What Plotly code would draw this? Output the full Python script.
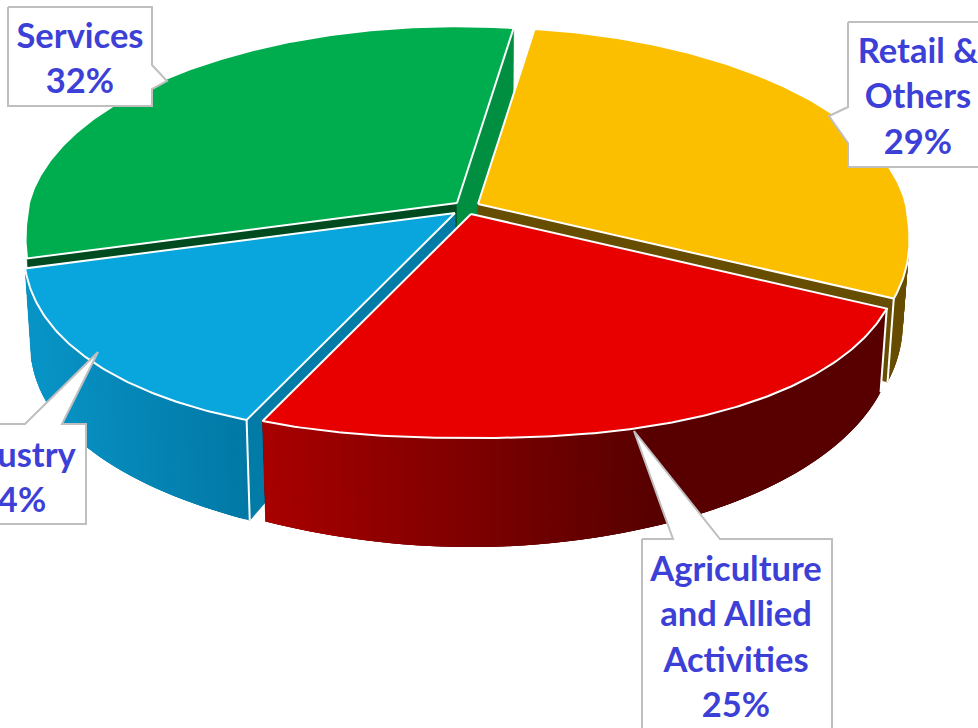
import math
import numpy as np
import plotly.graph_objects as go

# Share of each sector, clockwise from the top of the pie
categories = ["Retail & Others", "Agriculture and Allied Activities", "Industry", "Services"]
values = [29, 25, 14, 32]
label_lines = [["Retail &", "Others"], ["Agriculture", "and Allied", "Activities"], ["Industry"], ["Services"]]

top_colors = ["#FCBF00", "#E80000", "#09A6DE", "#00AD4E"]
start_cut_colors = ["#674D00", "#5A0000", "#027BA6", "#004A20"]
end_cut_colors = ["#674D00", "#5A0000", "#027BA6", "#008F41"]
# Outer wall shading: colour at the left end and right end of the sweep, in x
wall_shades = [
    ((103, 77, 0), (103, 77, 0), 0, 978),
    ((168, 0, 0), (88, 0, 0), 262, 650),
    ((8, 148, 198), (2, 120, 165), 32, 248),
    None,
]

# Slice tip on the page for each exploded sector
apex_x = [478, 471, 455, 457]
apex_y = [204, 214, 213, 203]

# Label boxes: x centre, first line y, box outline
label_x = [918, 736, 12, 80]
label_y = [51, 569, 455, 36]
callouts = [
    [(848, 22), (990, 22), (990, 167), (848, 167), (848, 143), (829, 116), (848, 107)],
    [(642, 539), (673, 539), (634, 431), (720, 539), (832, 539), (832, 740), (642, 740)],
    [(-10, 424), (25, 424), (98, 352), (62, 424), (86, 424), (86, 524), (-10, 524)],
    [(8, 7), (152, 7), (152, 65), (167, 81), (152, 89), (152, 106), (8, 106)],
]

START_DEG = 9.5
RX, RY, PERSP = 428.0, 197.6, 0.118
BOTTOM_SX = 0.985
APEX_DEPTH = 70.0
FRONT_POWER = 2 / 2.3  # the near half of the rim bulges past a plain ellipse
# Angular stretch of the viewing tilt around the rim
TILT_DEG = [9.5, 114, 204, 254.3, 369.5]
TILT_SHIFT = [-1.0, 0.0, -1.4, 2.7, -1.0]


def project(i, deg):
    """Rim point of slice i on the top face, with its bottom-face partner."""
    t = math.radians(deg + float(np.interp(deg, TILT_DEG, TILT_SHIFT)))
    u, v = math.sin(t), -math.cos(t)
    w = 1 - PERSP * v
    su, sv = u, v
    if v > 0:
        su = math.copysign(abs(u) ** FRONT_POWER, u)
        sv = v ** FRONT_POWER
    dx, dy = RX * su / w, RY * sv / w
    depth = 81 + 31 * (1 - math.sqrt(u * u + 0.01)) + 12 * max(0, -u) ** 3
    top = (apex_x[i] + dx, apex_y[i] + dy)
    bottom = (apex_x[i] + dx * BOTTOM_SX, apex_y[i] + dy + depth)
    return top, bottom


def shade(spec, x):
    c0, c1, x0, x1 = spec
    f = min(1, max(0, (x - x0) / (x1 - x0)))
    return "rgb(%d,%d,%d)" % tuple(round(a + (b - a) * f) for a, b in zip(c0, c1))


fig = go.Figure()


def polygon(points, fill, line_color=None, width=0.6):
    xs = [p[0] for p in points] + [points[0][0]]
    ys = [p[1] for p in points] + [points[0][1]]
    fig.add_trace(go.Scatter(
        x=xs, y=ys, mode="lines", fill="toself", fillcolor=fill,
        line=dict(color=line_color or fill, width=width),
        hoverinfo="skip", showlegend=False,
    ))


def edge(a, b, width=2):
    fig.add_trace(go.Scatter(
        x=[a[0], b[0]], y=[a[1], b[1]], mode="lines",
        line=dict(color="white", width=width), hoverinfo="skip", showlegend=False,
    ))


# Sector spans in degrees
spans = []
start = START_DEG
for val in values:
    sweep = val / sum(values) * 360
    spans.append((start, start + sweep))
    start += sweep

# Painter's order: back sectors first, the front red sector last
for i in [3, 0, 2, 1]:
    a0, a1 = spans[i]
    n = max(12, int((a1 - a0) / 0.6))
    angles = [a0 + (a1 - a0) * k / n for k in range(n + 1)]
    rim = [project(i, a) for a in angles]
    apex_top = (apex_x[i], apex_y[i])
    apex_bot = (apex_x[i], apex_y[i] + APEX_DEPTH)

    # Radial cut faces
    polygon([apex_top, rim[0][0], rim[0][1], apex_bot], start_cut_colors[i])
    polygon([apex_top, rim[-1][0], rim[-1][1], apex_bot], end_cut_colors[i])

    # Outer wall as overlapping shaded strips, so no seams show between them
    if wall_shades[i] is not None:
        for k in range(n):
            j = min(k + 3, n)
            xm = (rim[k][0][0] + rim[k + 1][0][0]) / 2
            tops = [r[0] for r in rim[k:j + 1]]
            bottoms = [r[1] for r in rim[k:j + 1]]
            polygon(tops + bottoms[::-1], shade(wall_shades[i], xm), width=0)

    # White seams down the visible wall corners
    if i == 0:
        edge(rim[-1][0], rim[-1][1])
    elif i == 1:
        edge(rim[0][0], rim[0][1])
    elif i == 2:
        edge(rim[0][0], rim[0][1])

    # Top face
    polygon([apex_top] + [r[0] for r in rim], top_colors[i], "white", 2)

# Callout boxes and their text
for i in [1, 2, 3, 0]:
    polygon(callouts[i], "white", "#BFBFBF", 2)
    lines = label_lines[i] + [f"{values[i]}%"]
    fig.add_trace(go.Scatter(
        x=[label_x[i]] * len(lines),
        y=[label_y[i] + 3 + 45.5 * k for k in range(len(lines))],
        mode="text", text=lines, textposition="middle center",
        textfont=dict(family="Lato", size=34.5, color="#3C40D6", weight="bold"),
        cliponaxis=False, hoverinfo="skip", showlegend=False,
    ))

fig.update_layout(
    width=978, height=728, autosize=False,
    margin=dict(l=0, r=0, t=0, b=0),
    paper_bgcolor="white", plot_bgcolor="white",
    xaxis=dict(range=[0, 978], visible=False, fixedrange=True),
    yaxis=dict(range=[728, 0], visible=False, fixedrange=True),
)
fig.write_html("out.html", config=dict(displayModeBar=False))
